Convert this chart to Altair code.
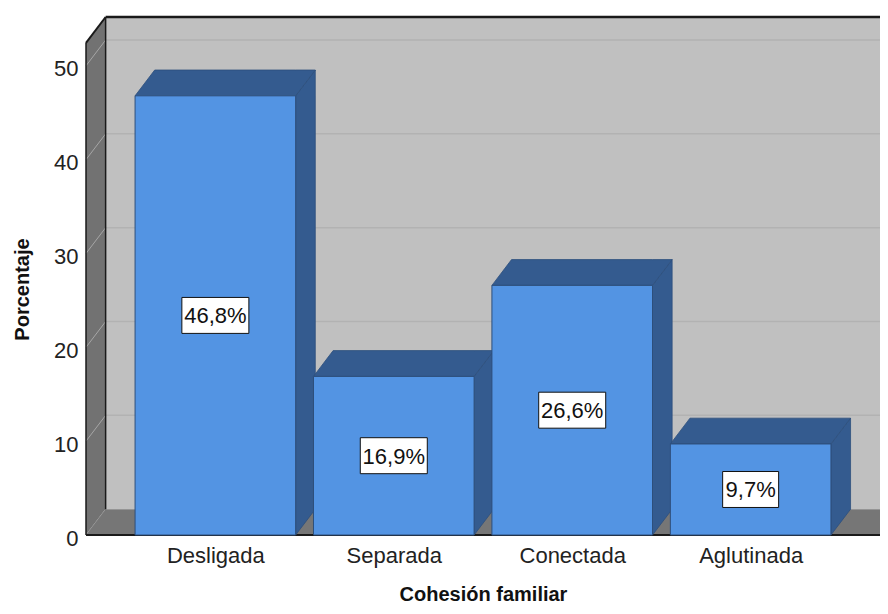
import altair as alt
import pandas as pd

# ---- data ----
categories = ["Desligada", "Separada", "Conectada", "Aglutinada"]
percentages = [46.8, 16.9, 26.6, 9.7]
value_labels = ["46,8%", "16,9%", "26,6%", "9,7%"]
y_ticks = [0, 10, 20, 30, 40, 50]

# ---- style / 3D geometry constants ----
FONT = "Liberation Sans"
BAR_FRONT = "#5394e3"
BAR_DARK = "#345b8f"
BAR_EDGE = "#2d4f7c"
WALL = "#c0c0c0"
WALL_GRID = "#b2b2b2"
SIDE = "#727272"
FLOOR = "#767676"
SIDE_GRID = "#a6a6a6"

X_MIN, X_MAX = -0.725, 3.725
Y_MAX = 55.2
DX, DY = 0.11, 2.75      # depth offset (x in category units, y in percent units)
HALF = 0.45              # half bar width in category units

xs = alt.Scale(domain=[X_MIN, X_MAX], nice=False, zero=False)
ys = alt.Scale(domain=[0, Y_MAX], nice=False, zero=False)

label_expr = "['" + "','".join(categories) + "'][datum.value]"
X_AXIS = alt.Axis(
    values=[0, 1, 2, 3], labelExpr=label_expr, grid=False, ticks=False, domain=False,
    labelFont=FONT, labelFontSize=22, labelColor="#222222", labelPadding=10,
    title="Cohesión familiar", titleFont=FONT, titleFontSize=20, titleFontWeight="bold",
    titleColor="#111111", titleBaseline="alphabetic", titleY=65)
Y_AXIS = alt.Axis(
    values=y_ticks, grid=False, ticks=False, domain=False,
    labelFont=FONT, labelFontSize=22, labelColor="#222222", labelPadding=8, labelOffset=3,
    title="Porcentaje", titleFont=FONT, titleFontSize=20, titleFontWeight="bold",
    titleColor="#111111", titleAngle=270, titleAlign="center", titleBaseline="middle",
    titleX=-64, titleY=272)


def X(f):
    return alt.X(f, scale=xs, axis=X_AXIS)


def Y(f):
    return alt.Y(f, scale=ys, axis=Y_AXIS)


bars = pd.DataFrame({"idx": list(range(len(categories))), "cat": categories,
                     "pct": percentages, "label": value_labels})
bars["left"] = bars["idx"] - HALF
bars["right"] = bars["idx"] + HALF
bars["mid"] = bars["pct"] / 2
bars["zero"] = 0.0
bars["boxw"] = [11 * len(s) + 12 for s in value_labels]
bars["path"] = [f"M{-w/67:.4f},-0.537H{w/67:.4f}V0.537H{-w/67:.4f}Z" for w in bars["boxw"]]

# top faces (parallelograms as areas)
top_rows = []
for _, r in bars.iterrows():
    v = r["pct"]
    top_rows += [
        {"cat": r["cat"], "x": r["left"], "y": v, "y2": v},
        {"cat": r["cat"], "x": r["left"] + DX, "y": v, "y2": v + DY},
        {"cat": r["cat"], "x": r["right"], "y": v, "y2": v + DY},
        {"cat": r["cat"], "x": r["right"] + DX, "y": v + DY, "y2": v + DY},
    ]
top_df = pd.DataFrame(top_rows)

side_rows = []
for _, r in bars.iterrows():
    v = r["pct"]
    side_rows += [
        {"cat": r["cat"], "x": r["right"], "y": 0.0, "y2": v},
        {"cat": r["cat"], "x": r["right"] + DX, "y": DY, "y2": v + DY},
    ]
side_df = pd.DataFrame(side_rows)

# ---- frame pieces ----
wall_df = pd.DataFrame([{"x": X_MIN + DX, "x2": X_MAX + DX + 0.2, "y": DY, "y2": Y_MAX}])
wall_grid_df = pd.DataFrame([{"x": X_MIN + DX, "x2": X_MAX, "y": v + DY} for v in y_ticks[1:]])
side_panel_df = pd.DataFrame([
    {"x": X_MIN, "y": 0.0, "y2": Y_MAX - DY},
    {"x": X_MIN + DX, "y": DY, "y2": Y_MAX},
])
side_grid_df = pd.DataFrame([{"x": X_MIN, "x2": X_MIN + DX, "y": v, "y2": v + DY} for v in y_ticks])
floor_df = pd.DataFrame([
    {"x": X_MIN, "y": 0.0, "y2": 0.0},
    {"x": X_MIN + DX, "y": 0.0, "y2": DY},
    {"x": X_MAX, "y": 0.0, "y2": DY},
    {"x": X_MAX + DX, "y": DY, "y2": DY},
])
outline_df = pd.DataFrame([
    {"x": X_MIN, "x2": X_MIN, "y": 0.0, "y2": Y_MAX - DY, "w": 1.5},
    {"x": X_MIN, "x2": X_MIN + DX, "y": Y_MAX - DY, "y2": Y_MAX, "w": 2.0},
    {"x": X_MIN + DX, "x2": X_MAX, "y": Y_MAX, "y2": Y_MAX, "w": 2.5},
    {"x": X_MIN + DX, "x2": X_MIN + DX, "y": DY, "y2": Y_MAX, "w": 1.5},
    {"x": X_MIN, "x2": X_MAX, "y": 0.0, "y2": 0.0, "w": 2.0},
])

wall = alt.Chart(wall_df).mark_rect(color=WALL, clip=True).encode(
    x=X("x:Q"), x2="x2", y=Y("y:Q"), y2="y2")
wall_grid = alt.Chart(wall_grid_df).mark_rule(color=WALL_GRID, strokeWidth=1.5, clip=True).encode(
    x=X("x:Q"), x2="x2", y=Y("y:Q"))
side_panel = alt.Chart(side_panel_df).mark_area(color=SIDE, opacity=1).encode(
    x=X("x:Q"), y=Y("y:Q"), y2="y2")
side_grid = alt.Chart(side_grid_df).mark_rule(color=SIDE_GRID, strokeWidth=1).encode(
    x=X("x:Q"), x2="x2", y=Y("y:Q"), y2="y2")
floor = alt.Chart(floor_df).mark_area(color=FLOOR, opacity=1, clip=True).encode(
    x=X("x:Q"), y=Y("y:Q"), y2="y2")
outline = alt.Chart(outline_df).mark_rule(color="#1a1a1a").encode(
    x=X("x:Q"), x2="x2", y=Y("y:Q"), y2="y2",
    strokeWidth=alt.StrokeWidth("w:Q", scale=None))

tops = alt.Chart(top_df).mark_area(color=BAR_DARK, opacity=1, stroke=BAR_EDGE, strokeWidth=0.8).encode(
    x=X("x:Q"), y=Y("y:Q"), y2="y2", detail="cat:N")
sides = alt.Chart(side_df).mark_area(color=BAR_DARK, opacity=1, stroke=BAR_EDGE, strokeWidth=0.8).encode(
    x=X("x:Q"), y=Y("y:Q"), y2="y2", detail="cat:N")

fronts = alt.Chart(bars).mark_rect(color=BAR_FRONT, stroke=BAR_EDGE, strokeWidth=1).encode(
    x=X("left:Q"), x2="right", y=Y("zero:Q"), y2="pct")

boxes = alt.Chart(bars).mark_point(size=4489, filled=True, fill="white", stroke="#111111",
                                   strokeWidth=1, opacity=1).encode(
    x=X("idx:Q"), y=Y("mid:Q"), shape=alt.Shape("path:N", scale=None))
texts = alt.Chart(bars).mark_text(font=FONT, fontSize=22, color="#111111", baseline="middle", dy=1).encode(
    x=X("idx:Q"), y=Y("mid:Q"), text="label:N")

chart = alt.layer(
    wall, wall_grid, side_panel, side_grid, floor, outline, sides, tops, fronts, boxes, texts
).properties(
    width=794, height=518,
    padding={"left": 78, "top": 9, "right": 0, "bottom": 69},
    autosize=alt.AutoSizeParams(type="none"),
).configure_view(stroke=None)

chart.save("out.html", embed_options={"renderer": "svg", "actions": False})
